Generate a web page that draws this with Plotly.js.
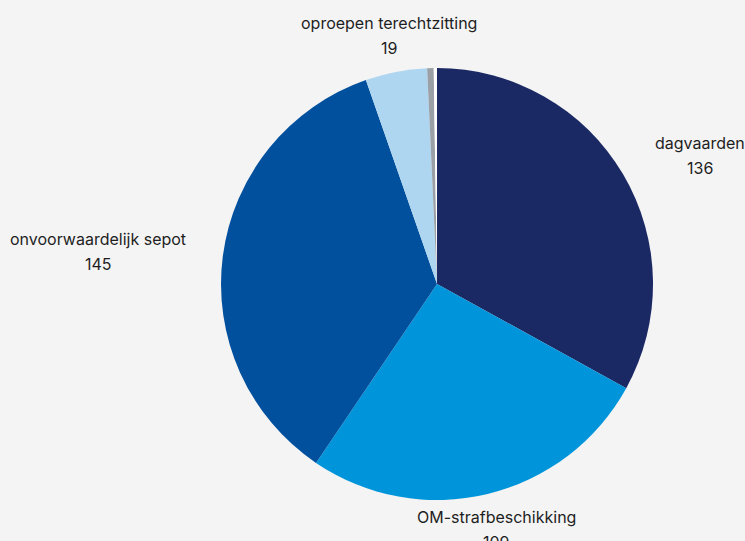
<!DOCTYPE html>
<html>
<head>
<meta charset="utf-8">
<script src="https://cdn.plot.ly/plotly-3.0.1.min.js"></script>
<style>
html,body{margin:0;padding:0;background:#f4f4f4;}
#chart{width:745px;height:541px;}
</style>
</head>
<body>
<div id="chart"></div>
<script>
const categories = ["dagvaarden", "OM-strafbeschikking", "onvoorwaardelijk sepot", "oproepen terechtzitting", "overig", "overig 2"];
const values = [136, 109, 145, 19, 2, 1];
const colors = ["#1a2864", "#0095db", "#01509e", "#afd6f0", "#9aa0a5", "#ffffff"];
const shownLabels = [true, true, true, true, false, false];

const W = 745, H = 541;
const margin = {t: 68, b: 41, l: 0, r: 0};
const domX = [0.2, 0.9732];
const plotH = H - margin.t - margin.b;
const radius = plotH / 2;           // pie radius in px (height-limited domain)
const labelDist = radius + 37;      // distance of labels from centre
const lineGap = 12.5;               // half spacing between the two label lines
const cx = (domX[0] + domX[1]) / 2; // pie centre, paper coords
const cy = 0.5;
const fontFamily = "Inter, 'Noto Sans', sans-serif";
const fontSize = 16;

const ctx = document.createElement("canvas").getContext("2d");
ctx.font = fontSize + "px Inter, 'Noto Sans', sans-serif";

const total = values.reduce((a, b) => a + b, 0);
const annotations = [];
let cum = 0;
values.forEach((v, i) => {
  const mid = (cum + v / 2) / total * 2 * Math.PI; // clockwise from 12 o'clock
  cum += v;
  if (!shownLabels[i]) return;
  const s = Math.sin(mid), c = Math.cos(mid);
  let xs = labelDist * s;
  const ys = labelDist * c;
  const w = Math.max(ctx.measureText(categories[i]).width, ctx.measureText(String(values[i])).width);
  if (s > 0.5) xs += w / 2; else if (s < -0.5) xs -= w / 2;
  const font = {family: fontFamily, size: fontSize, color: "#1e1e1e"};
  [[categories[i], lineGap], [String(values[i]), -lineGap]].forEach(([t, dy]) => {
    annotations.push({
      xref: "paper", yref: "paper", x: cx, y: cy,
      xshift: xs, yshift: ys + dy,
      text: t, showarrow: false, xanchor: "center", yanchor: "middle",
      align: "center", font: font
    });
  });
});

Plotly.newPlot("chart", [{
  type: "pie",
  labels: categories,
  values: values,
  textinfo: "none",
  sort: false,
  direction: "clockwise",
  rotation: 0,
  hoverinfo: "label+value",
  marker: {colors: colors, line: {width: 0}},
  automargin: false,
  domain: {x: domX, y: [0, 1]}
}], {
  width: W,
  height: H,
  margin: margin,
  paper_bgcolor: "#f4f4f4",
  plot_bgcolor: "#f4f4f4",
  showlegend: false,
  annotations: annotations
}, {displayModeBar: false, staticPlot: true});
</script>
</body>
</html>
